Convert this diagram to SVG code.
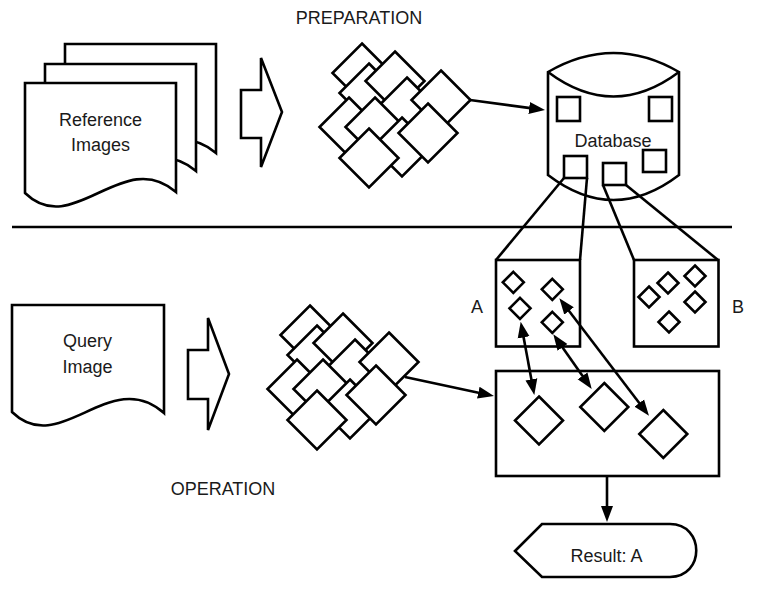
<svg xmlns="http://www.w3.org/2000/svg" xmlns:xlink="http://www.w3.org/1999/xlink" width="757" height="592" viewBox="0 0 757 592">
<style>
.s{fill:#fff;stroke:#000;stroke-width:2.6;stroke-linejoin:miter}
.ln{fill:none;stroke:#000;stroke-width:2.6}
.t{font-family:"Liberation Sans",Arial,sans-serif;font-size:18px;fill:#1a1a1a;text-anchor:middle}
</style>
<defs>
<path id="dia" class="s" d="M0,-29.5 L29.5,0 L0,29.5 L-29.5,0Z"/>
<path id="sd" class="s" d="M0,-10.5 L10.5,0 L0,10.5 L-10.5,0Z"/>
<path id="md" class="s" d="M0,-24 L24,0 L0,24 L-24,0Z"/>
<g id="cluster">
<use href="#dia" x="362" y="73"/>
<use href="#dia" x="369" y="93"/>
<use href="#dia" x="395" y="81"/>
<use href="#dia" x="407" y="107"/>
<use href="#dia" x="441" y="100"/>
<use href="#dia" x="349" y="127"/>
<use href="#dia" x="375" y="127"/>
<use href="#dia" x="402" y="147"/>
<use href="#dia" x="428" y="133"/>
<use href="#dia" x="369" y="158"/>
</g>
<marker id="ah" markerUnits="userSpaceOnUse" markerWidth="16" markerHeight="13" viewBox="0 0 16 13" refX="5" refY="6.5" orient="auto-start-reverse">
<path d="M0,0.5 L16,6.5 L0,12.5Z" fill="#000"/>
</marker>
</defs>

<text class="t" x="359" y="24">PREPARATION</text>
<text class="t" x="223" y="495">OPERATION</text>

<g id="reference-images">
<path class="s" d="M65,44 H216 V153 C163,107 113,201 65,154 Z"/>
<path class="s" d="M45,64 H196 V171 C143,125 93,219 45,172 Z"/>
<path class="s" d="M25,83 H176 V192 C123,146 73,240 25,193 Z"/>
<text class="t" x="100.5" y="125.7">Reference</text>
<text class="t" x="100.5" y="151">Images</text>
</g>

<g id="prep-arrow">
<path class="s" d="M241,90 H261 V58 L282,112 L261,167 V138 H241 Z"/>
</g>

<g id="ref-features">
<use href="#cluster"/>
</g>

<g id="database">
<path class="s" d="M548,72 Q613.5,34 679,72 V175 Q613.5,225 548,175 Z"/>
<path class="ln" d="M548,72 Q613.5,121 679,72"/>
<rect class="s" x="557" y="97" width="23" height="24"/>
<rect class="s" x="649" y="97" width="23" height="24"/>
<rect class="s" x="643" y="150" width="23" height="22"/>
<rect class="s" x="564" y="156" width="23" height="22"/>
<rect class="s" x="603" y="163" width="23" height="22"/>
<text class="t" x="613" y="147">Database</text>
</g>

<line class="ln" x1="12" y1="227" x2="732" y2="227" stroke-width="3"/>

<g id="query-image">
<path class="s" d="M12,305 H164 V413 C110,365 60,459 12,412 Z"/>
<text class="t" x="87.5" y="347">Query</text>
<text class="t" x="87.5" y="373">Image</text>
</g>

<g id="op-arrow">
<path class="s" d="M188,350 H208 V318 L229,374 L208,430 V399 H188 Z"/>
</g>

<g id="query-features">
<use href="#cluster" transform="translate(-52,262)"/>
</g>

<g id="box-a">
<rect class="s" x="496" y="260" width="84" height="86.5"/>
<use href="#sd" x="513.3" y="282.3"/>
<use href="#sd" x="552.3" y="289.3"/>
<use href="#sd" x="520" y="308.3"/>
<use href="#sd" x="552.3" y="322.3"/>
<text class="t" x="477" y="313">A</text>
</g>

<g id="box-b">
<rect class="s" x="634" y="260" width="84.5" height="86.5"/>
<use href="#sd" x="649" y="297"/>
<use href="#sd" x="668" y="283"/>
<use href="#sd" x="695" y="276"/>
<use href="#sd" x="695" y="302"/>
<use href="#sd" x="669" y="322"/>
<text class="t" x="738" y="313">B</text>
</g>

<g id="match-box">
<rect class="s" x="496" y="371" width="223" height="105"/>
<use href="#md" x="539" y="420.5"/>
<use href="#md" x="604.3" y="407"/>
<use href="#md" x="663.3" y="434"/>
</g>

<g id="result">
<path class="s" d="M515,551 L542,524 H670 C705,524 705,577 670,577 H542 Z"/>
<text class="t" x="606.5" y="561.5">Result: A</text>
</g>

<g id="connectors">
<line class="ln" x1="470" y1="100" x2="534.1" y2="108.6" marker-end="url(#ah)"/>
<line class="ln" x1="564" y1="178" x2="496" y2="260"/>
<line class="ln" x1="587" y1="178" x2="580" y2="260"/>
<line class="ln" x1="603" y1="185" x2="634" y2="260"/>
<line class="ln" x1="626" y1="185" x2="718" y2="260"/>
<line class="ln" x1="405" y1="377" x2="483.2" y2="393.7" marker-end="url(#ah)"/>
<line class="ln" x1="522.7" y1="332.5" x2="532.3" y2="384.2" marker-start="url(#ah)" marker-end="url(#ah)"/>
<line class="ln" x1="559.6" y1="343.3" x2="585.4" y2="380" marker-start="url(#ah)" marker-end="url(#ah)"/>
<line class="ln" x1="566" y1="307" x2="642.3" y2="407" marker-start="url(#ah)" marker-end="url(#ah)"/>
<line class="ln" x1="607" y1="476" x2="607" y2="511" marker-end="url(#ah)"/>
</g>
</svg>
